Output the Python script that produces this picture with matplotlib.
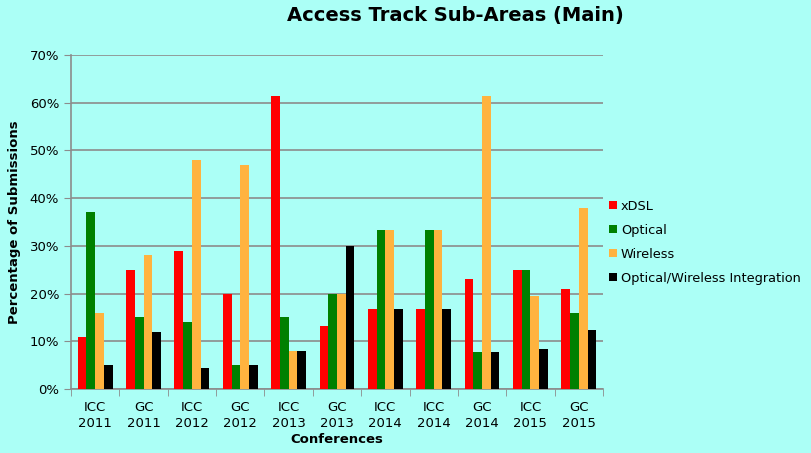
import numpy as np
import matplotlib
matplotlib.use('Agg')
import matplotlib.pyplot as plt
from matplotlib.ticker import PercentFormatter

# Data
conferences = ['ICC\n2011', 'GC\n2011', 'ICC\n2012', 'GC\n2012', 'ICC\n2013', 'GC\n2013',
               'ICC\n2014', 'ICC\n2014', 'GC\n2014', 'ICC\n2015', 'GC\n2015']
xdsl = [11, 25, 29, 20, 61.4, 13.3, 16.7, 16.7, 23, 25, 21]
optical = [37, 15, 14, 5, 15, 20, 33.3, 33.3, 7.7, 25, 16]
wireless = [16, 28, 48, 47, 7.9, 20, 33.3, 33.3, 61.4, 19.4, 38]
integration = [5, 12, 4.4, 5, 7.9, 30, 16.7, 16.7, 7.7, 8.3, 12.4]

series = [('xDSL', xdsl, '#FF0000'),
          ('Optical', optical, '#008000'),
          ('Wireless', wireless, '#FFB33F'),
          ('Optical/Wireless Integration', integration, '#000000')]

bg = '#ABFFF6'
fig = plt.figure(figsize=(8.11, 4.53), dpi=100, facecolor=bg)
ax = fig.add_axes([0.0875, 0.1413, 0.656, 0.7373], facecolor=bg)

x = np.arange(len(conferences))
width = 0.18
for i, (name, vals, color) in enumerate(series):
    ax.bar(x + (i - 1.5) * width, vals, width, color=color, label=name, zorder=3)

ax.set_xlim(-0.5, len(conferences) - 0.5)
ax.set_ylim(0, 70)
ax.set_yticks(np.arange(0, 71, 10))
ax.yaxis.set_major_formatter(PercentFormatter(decimals=0))
ax.yaxis.grid(True, color='#8c8c8c', linewidth=1.2, zorder=0)

ax.set_xticks(x)
ax.set_xticklabels(conferences, fontsize=9.5, linespacing=1.3)
ax.set_xticks(np.arange(-0.5, len(conferences), 1), minor=True)
ax.tick_params(axis='x', which='major', length=0, pad=9)
ax.tick_params(axis='x', which='minor', length=5, color='#8c8c8c')
ax.tick_params(axis='y', length=5, color='#8c8c8c', labelsize=9.5)

for s in ['top', 'right']:
    ax.spines[s].set_visible(False)
for s in ['left', 'bottom']:
    ax.spines[s].set_color('#8c8c8c')
    ax.spines[s].set_linewidth(1.2)

ax.set_xlabel('Conferences', fontsize=9.5, fontweight='bold', labelpad=2)
ax.set_ylabel('Percentage of Submissions', fontsize=9.5, fontweight='bold', labelpad=6)
fig.text(0.561, 0.965, 'Access Track Sub-Areas (Main)', ha='center', va='center',
         fontsize=14, fontweight='bold')

ax.legend(loc='center left', bbox_to_anchor=(1.0, 0.44), frameon=False, fontsize=9.3,
          handlelength=0.6, handleheight=0.6, handletextpad=0.3, labelspacing=0.85,
          borderaxespad=0.1)

plt.savefig('out.png', dpi=100, facecolor=bg)
